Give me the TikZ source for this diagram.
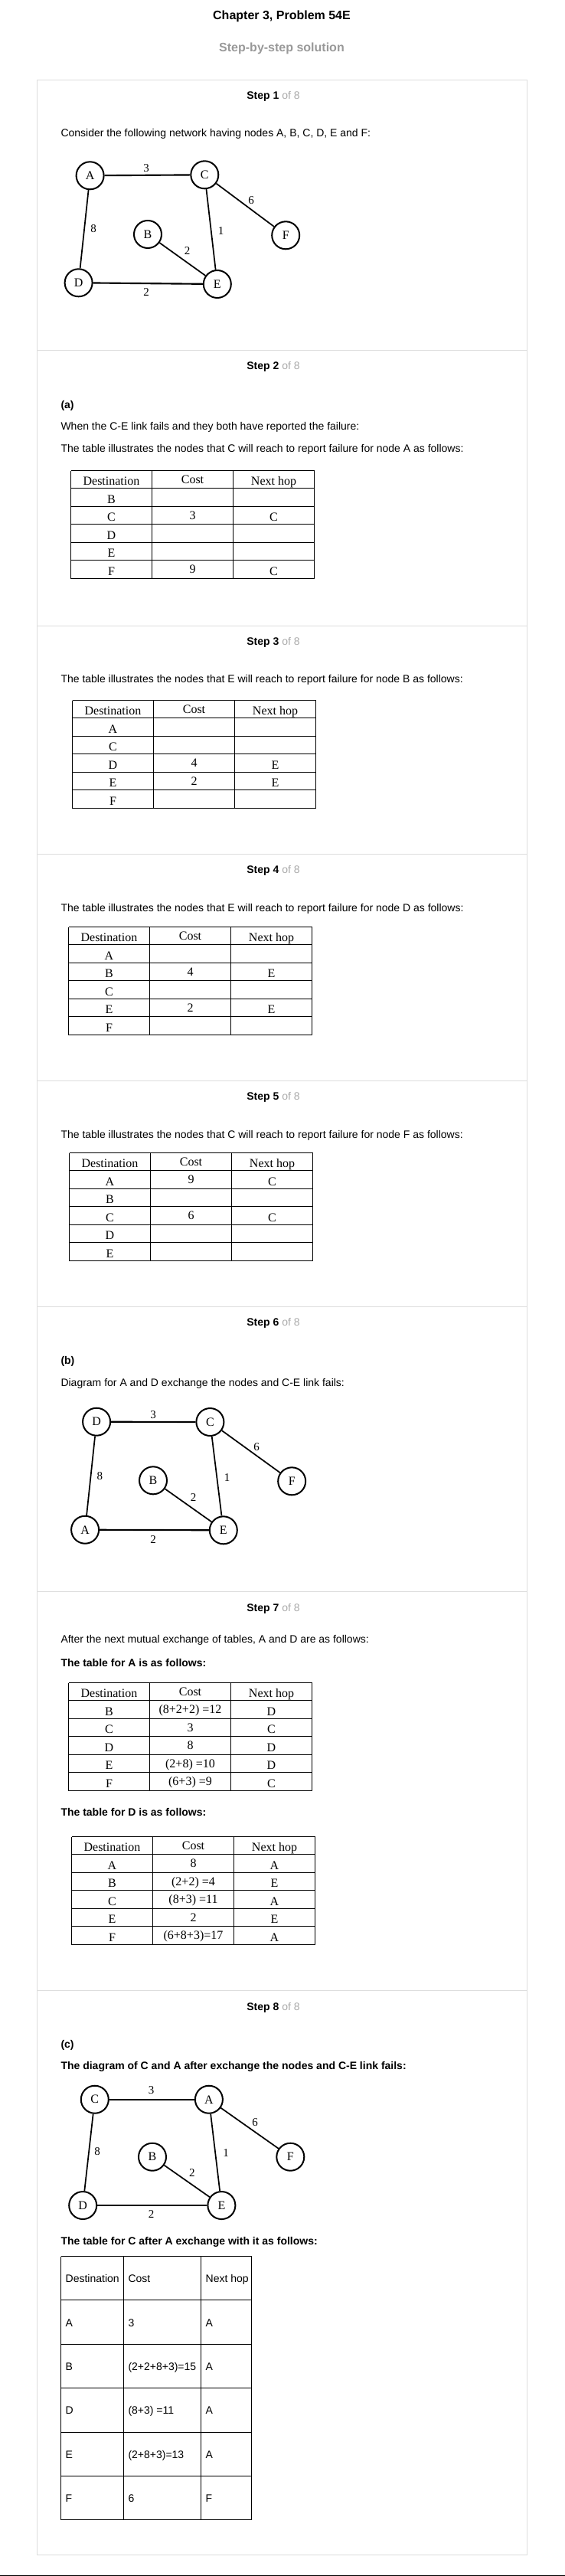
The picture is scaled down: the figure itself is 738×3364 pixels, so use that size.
\documentclass[tikz,border=0pt]{standalone}
\usepackage{fontspec}
\setmainfont{Liberation Sans}
\newfontfamily\timesfont{Liberation Serif}
\definecolor{framegray}{HTML}{DDDDDD}
\definecolor{subgray}{HTML}{999999}
\definecolor{ofgray}{HTML}{AAAAAA}
\tikzset{every picture/.style={line width=0.75pt}}
\tikzset{
  txt/.style={anchor=west, inner sep=0pt, font=\fontsize{10.5}{12}\selectfont},
  btxt/.style={anchor=west, inner sep=0pt, font=\fontsize{10.5}{12}\selectfont\bfseries},
  stephead/.style={inner sep=0pt, font=\fontsize{10.5}{12}\selectfont},
  router/.style={circle, draw, line width=1.5pt, minimum size=27pt, inner sep=0pt, font=\timesfont\fontsize{12}{14}\selectfont},
  link/.style={line width=1.3pt},
  hlink/.style={line width=1.6pt},
  wt/.style={inner sep=0pt, font=\timesfont\fontsize{11.25}{13}\selectfont},
  tabline/.style={draw=black, line width=1pt},
  cell/.style={anchor=base, inner sep=0pt, font=\timesfont\fontsize{12}{14}\selectfont},
  acell/.style={anchor=base west, inner sep=0pt, font=\fontsize{10.5}{12}\selectfont},
}

\begin{document}
\begin{tikzpicture}[x=0.75pt,y=0.75pt,yscale=-1,xscale=1]
\useasboundingbox (0,0) rectangle (738,3364);

% Text Node
\node[font=\fontsize{12}{14}\selectfont\bfseries] (title) at (368,21.7) {Chapter 3, Problem 54E};
% Text Node
\node[font=\fontsize{12}{14}\selectfont\bfseries, text=subgray] (subtitle) at (368,63.3) {Step-by-step solution};

%Shape: Rectangle [frame of the steps]
\draw[framegray] (48.5,104.5) rectangle (688.5,3336.5);
\foreach \y in {457.5,817.5,1115.5,1411.5,1706.5,2078.5,2599.5}
  \draw[framegray] (48.5,\y) -- (688.5,\y);
%Straight Lines [bottom edge]
\draw[line width=0.9pt] (0,3363.2) -- (738,3363.2);

% step headings
\foreach \n/\y in {1/126,2/479.3,3/839.3,4/1137.3,5/1433.3,6/1728.3,7/2100.7,8/2621.7}
  \node[stephead] (step\n) at (357,\y) {\textbf{Step \n} \textcolor{ofgray}{of 8}};

%%%%% Step 1
\node[txt] (intro) at (79,175) {Consider the following network having nodes A, B, C, D, E and F:};

\node[router] (A1) at (117.6,229.3) {A};
\node[router] (C1) at (267.3,228.3) {C};
\node[router] (B1) at (193,306) {B};
\node[router] (F1) at (373.2,307.3) {F};
\node[router] (D1) at (102.6,369.3) {D};
\node[router] (E1) at (283.8,371) {E};
\draw[hlink] (A1) -- (C1);
\draw[link] (A1) -- (D1);
\draw[link] (C1) -- (E1);
\draw[link] (C1) -- (F1);
\draw[link] (B1) -- (E1);
\draw[hlink] (D1) -- (E1);
\node[wt] (w1ac) at (191,220) {3};
\node[wt] (w1cf) at (328,261.7) {6};
\node[wt] (w1ad) at (122,299) {8};
\node[wt] (w1ce) at (288.5,301.7) {1};
\node[wt] (w1be) at (244.7,327.3) {2};
\node[wt] (w1de) at (191,381.7) {2};

%%%%% Step 2
\node[btxt] (parta) at (79,530) {(a)};
\node[txt] (fail) at (79,558.3) {When the C-E link fails and they both have reported the failure:};
\node[txt] (capA) at (79,586.7) {The table illustrates the nodes that C will reach to report failure for node A as follows:};
\begin{scope}[shift={(92.5,614.5)}]
\path[tabline] (0,0) -- (318,0) (0,23) -- (318,23) (0,47) -- (318,47) (0,70) -- (318,70)
  (0,94) -- (318,94) (0,117) -- (318,117) (0,141) -- (318,141)
  (0,0) -- (0,141) (106,0) -- (106,141) (212,0) -- (212,141) (318,0) -- (318,141);
\foreach \y/\d/\c/\h [count=\i] in {19/Destination/Cost/Next hop, 42.5/B/{}/{}, 66/C/3/C, 89.5/D/{}/{}, 113/E/{}/{}, 136.5/F/9/C} {
  \node[cell] (ta-d\i) at (53,\y) {\d};
  \node[cell] (ta-c\i) at (159,{\y-2.5}) {\c};
  \node[cell] (ta-h\i) at (265,\y) {\h};
}
\end{scope}

%%%%% Step 3
\node[txt] (capB) at (79,888.3) {The table illustrates the nodes that E will reach to report failure for node B as follows:};
\begin{scope}[shift={(94.5,914.5)}]
\path[tabline] (0,0) -- (318,0) (0,23) -- (318,23) (0,47) -- (318,47) (0,70) -- (318,70)
  (0,94) -- (318,94) (0,117) -- (318,117) (0,141) -- (318,141)
  (0,0) -- (0,141) (106,0) -- (106,141) (212,0) -- (212,141) (318,0) -- (318,141);
\foreach \y/\d/\c/\h [count=\i] in {19/Destination/Cost/Next hop, 42.5/A/{}/{}, 66/C/{}/{}, 89.5/D/4/E, 113/E/2/E, 136.5/F/{}/{}} {
  \node[cell] (tb-d\i) at (53,\y) {\d};
  \node[cell] (tb-c\i) at (159,{\y-2.5}) {\c};
  \node[cell] (tb-h\i) at (265,\y) {\h};
}
\end{scope}

%%%%% Step 4
\node[txt] (capD) at (79,1186.7) {The table illustrates the nodes that E will reach to report failure for node D as follows:};
\begin{scope}[shift={(89.5,1210.5)}]
\path[tabline] (0,0) -- (318,0) (0,23) -- (318,23) (0,47) -- (318,47) (0,70) -- (318,70)
  (0,94) -- (318,94) (0,117) -- (318,117) (0,141) -- (318,141)
  (0,0) -- (0,141) (106,0) -- (106,141) (212,0) -- (212,141) (318,0) -- (318,141);
\foreach \y/\d/\c/\h [count=\i] in {19/Destination/Cost/Next hop, 42.5/A/{}/{}, 66/B/4/E, 89.5/C/{}/{}, 113/E/2/E, 136.5/F/{}/{}} {
  \node[cell] (tc-d\i) at (53,\y) {\d};
  \node[cell] (tc-c\i) at (159,{\y-2.5}) {\c};
  \node[cell] (tc-h\i) at (265,\y) {\h};
}
\end{scope}

%%%%% Step 5
\node[txt] (capF) at (79,1483.3) {The table illustrates the nodes that C will reach to report failure for node F as follows:};
\begin{scope}[shift={(90.5,1505.5)}]
\path[tabline] (0,0) -- (318,0) (0,23) -- (318,23) (0,47) -- (318,47) (0,70) -- (318,70)
  (0,94) -- (318,94) (0,117) -- (318,117) (0,141) -- (318,141)
  (0,0) -- (0,141) (106,0) -- (106,141) (212,0) -- (212,141) (318,0) -- (318,141);
\foreach \y/\d/\c/\h [count=\i] in {19/Destination/Cost/Next hop, 42.5/A/9/C, 66/B/{}/{}, 89.5/C/6/C, 113/D/{}/{}, 136.5/E/{}/{}} {
  \node[cell] (td-d\i) at (53,\y) {\d};
  \node[cell] (td-c\i) at (159,{\y-2.5}) {\c};
  \node[cell] (td-h\i) at (265,\y) {\h};
}
\end{scope}

%%%%% Step 6
\node[btxt] (partb) at (79,1777.7) {(b)};
\node[txt] (diagb) at (79,1806.7) {Diagram for A and D exchange the nodes and C-E link fails:};

\node[router] (D2) at (126.1,1856.7) {D};
\node[router] (C2) at (274.4,1857) {C};
\node[router] (B2) at (200,1933.3) {B};
\node[router] (F2) at (381.2,1934.3) {F};
\node[router] (A2) at (111.1,1997.7) {A};
\node[router] (E2) at (291.8,1998.3) {E};
\draw[hlink] (D2) -- (C2);
\draw[link] (D2) -- (A2);
\draw[link] (C2) -- (E2);
\draw[link] (C2) -- (F2);
\draw[link] (B2) -- (E2);
\draw[hlink] (A2) -- (E2);
\node[wt] (w2dc) at (200,1847.7) {3};
\node[wt] (w2cf) at (335,1890) {6};
\node[wt] (w2da) at (130.4,1927.3) {8};
\node[wt] (w2ce) at (296.5,1930) {1};
\node[wt] (w2be) at (252.7,1956) {2};
\node[wt] (w2ae) at (200,2011) {2};

%%%%% Step 7
\node[txt] (after) at (79,2142.3) {After the next mutual exchange of tables, A and D are as follows:};
\node[btxt] (capTA) at (79,2171) {The table for A is as follows:};
\begin{scope}[shift={(89.5,2197.5)}]
\path[tabline] (0,0) -- (318,0) (0,23) -- (318,23) (0,47) -- (318,47) (0,70) -- (318,70)
  (0,94) -- (318,94) (0,117) -- (318,117) (0,141) -- (318,141)
  (0,0) -- (0,141) (106,0) -- (106,141) (212,0) -- (212,141) (318,0) -- (318,141);
\foreach \y/\d/\c/\h [count=\i] in {19/Destination/Cost/Next hop, 42.5/B/{(8+2+2) =12}/D, 66/C/3/C, 89.5/D/8/D, 113/E/{(2+8) =10}/D, 136.5/F/{(6+3) =9}/C} {
  \node[cell] (te-d\i) at (53,\y) {\d};
  \node[cell] (te-c\i) at (159,{\y-2.5}) {\c};
  \node[cell] (te-h\i) at (265,\y) {\h};
}
\end{scope}

\node[btxt] (capTD) at (79,2366.7) {The table for D is as follows:};
\begin{scope}[shift={(93.5,2398.5)}]
\path[tabline] (0,0) -- (318,0) (0,23) -- (318,23) (0,47) -- (318,47) (0,70) -- (318,70)
  (0,94) -- (318,94) (0,117) -- (318,117) (0,141) -- (318,141)
  (0,0) -- (0,141) (106,0) -- (106,141) (212,0) -- (212,141) (318,0) -- (318,141);
\foreach \y/\d/\c/\h [count=\i] in {19/Destination/Cost/Next hop, 42.5/A/8/A, 66/B/{(2+2) =4}/E, 89.5/C/{(8+3) =11}/A, 113/E/2/E, 136.5/F/{(6+8+3)=17}/A} {
  \node[cell] (tf-d\i) at (53,\y) {\d};
  \node[cell] (tf-c\i) at (159,{\y-2.5}) {\c};
  \node[cell] (tf-h\i) at (265,\y) {\h};
}
\end{scope}

%%%%% Step 8
\node[btxt] (partc) at (79,2671) {(c)};
\node[btxt] (diagc) at (79,2699.3) {The diagram of C and A after exchange the nodes and C-E link fails:};

\node[router] (C3) at (123.8,2741.7) {C};
\node[router] (A3) at (272.9,2741.7) {A};
\node[router] (B3) at (199,2816.7) {B};
\node[router] (F3) at (379.3,2816.7) {F};
\node[router] (D3) at (108.2,2880) {D};
\node[router] (E3) at (289.4,2880) {E};
\draw[hlink] (C3) -- (A3);
\draw[link] (C3) -- (D3);
\draw[link] (A3) -- (E3);
\draw[link] (A3) -- (F3);
\draw[link] (B3) -- (E3);
\draw[hlink] (D3) -- (E3);
\node[wt] (w3ca) at (197.6,2729.3) {3};
\node[wt] (w3af) at (333.2,2771.7) {6};
\node[wt] (w3cd) at (127,2809.3) {8};
\node[wt] (w3ae) at (295,2811.7) {1};
\node[wt] (w3be) at (250.8,2837.7) {2};
\node[wt] (w3de) at (197.6,2891.7) {2};

\node[btxt] (capTC) at (79,2928.3) {The table for C after A exchange with it as follows:};
\begin{scope}[shift={(79.5,2946.5)}]
\path[tabline] (0,0) -- (249,0) (0,57) -- (249,57) (0,115) -- (249,115) (0,172) -- (249,172)
  (0,230) -- (249,230) (0,287) -- (249,287) (0,344) -- (249,344)
  (0,0) -- (0,344) (82,0) -- (82,344) (183,0) -- (183,344) (249,0) -- (249,344);
\foreach \y/\d/\c/\h [count=\i] in {34/Destination/Cost/Next hop, 92.3/A/3/A, 149/B/{(2+2+8+3)=15}/A, 206.3/D/{(8+3) =11}/A, 264/E/{(2+8+3)=13}/A, 321.3/F/6/F} {
  \node[acell] (tg-d\i) at (5.7,\y) {\d};
  \node[acell] (tg-c\i) at (87.5,\y) {\c};
  \node[acell] (tg-h\i) at (188.7,\y) {\h};
}
\end{scope}

\end{tikzpicture}
\end{document}
